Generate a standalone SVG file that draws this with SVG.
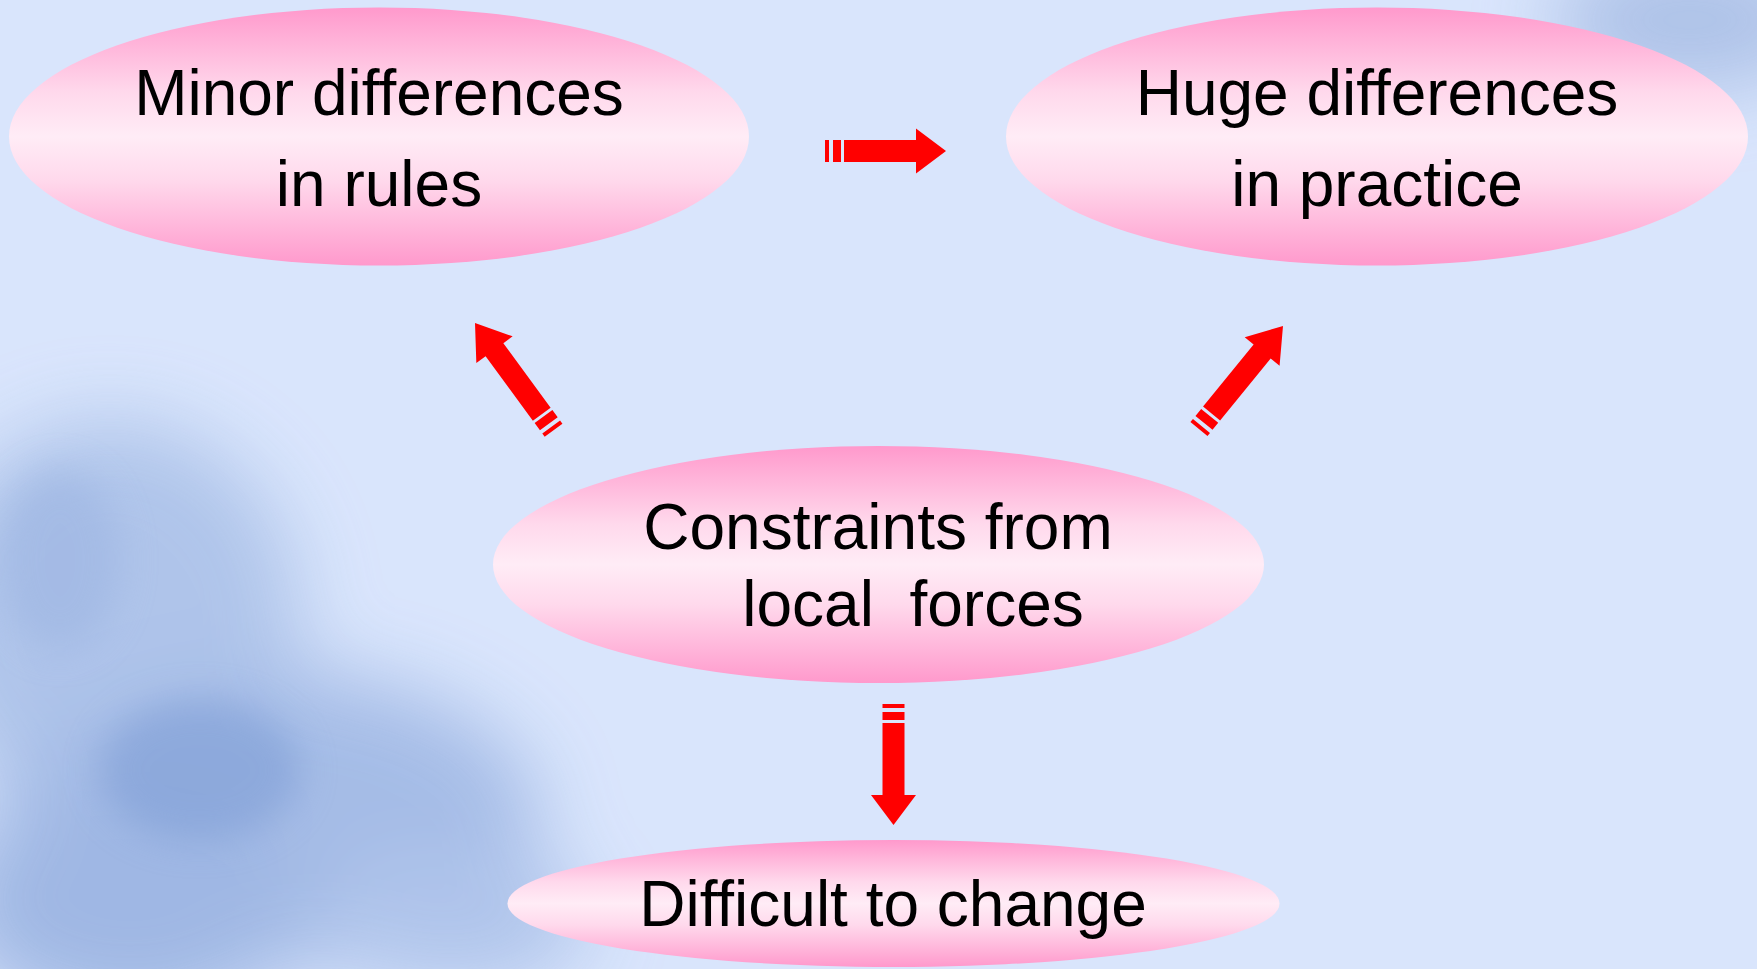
<svg xmlns="http://www.w3.org/2000/svg" width="1757" height="969" viewBox="0 0 1757 969">
<defs>
<linearGradient id="pink" x1="0" y1="0" x2="0" y2="1">
<stop offset="0" stop-color="#ff99cc"/>
<stop offset="0.33" stop-color="#ffd9ec"/>
<stop offset="0.5" stop-color="#ffecf6"/>
<stop offset="0.67" stop-color="#ffd9ec"/>
<stop offset="1" stop-color="#ff99cc"/>
</linearGradient>
<filter id="blur" x="-50%" y="-50%" width="200%" height="200%"><feGaussianBlur stdDeviation="40"/></filter>
<filter id="blur2" x="-50%" y="-50%" width="200%" height="200%"><feGaussianBlur stdDeviation="18"/></filter>
<path id="arw" d="M0,0 L-30,-22.5 L-30,-11 L-102,-11 L-102,11 L-30,11 L-30,22.5 Z M-105,-11 L-113,-11 L-113,11 L-105,11 Z M-117,-11 L-121,-11 L-121,11 L-117,11 Z"/>
<path id="arwL" d="M0,0 L-33,-22.5 L-33,-11 L-113,-11 L-113,11 L-33,11 L-33,22.5 Z M-116,-11 L-125,-11 L-125,11 L-116,11 Z M-129,-11 L-133,-11 L-133,11 L-129,11 Z"/>
</defs>
<style>
.node ellipse{fill:url(#pink);}
.node text{font-family:"Liberation Sans",Arial,sans-serif;font-size:64px;fill:#000;text-anchor:middle;white-space:pre;}
.conn use{fill:#ff0000;}
</style>
<g id="background">
<rect width="1757" height="969" fill="#d9e5fc"/>
<g filter="url(#blur)" opacity="0.85">
<ellipse cx="110" cy="620" rx="190" ry="200" fill="#a8bfe7"/>
<ellipse cx="270" cy="820" rx="270" ry="150" fill="#9cb5e3"/>
<ellipse cx="130" cy="900" rx="180" ry="120" fill="#96b0e0"/>
<ellipse cx="450" cy="920" rx="140" ry="70" fill="#a9bfe8"/>
<ellipse cx="1690" cy="20" rx="140" ry="70" fill="#a6bce4"/>
</g>
<g filter="url(#blur2)" opacity="0.6">
<ellipse cx="200" cy="770" rx="100" ry="70" fill="#7f9ed6"/>
<ellipse cx="60" cy="560" rx="60" ry="90" fill="#9db5e2"/>
</g>
</g>
<g id="connectors" class="conn">
<use href="#arw" transform="translate(946,151)"/>
<use href="#arwL" transform="translate(475,323) rotate(-126.2)"/>
<use href="#arwL" transform="translate(1283,326) rotate(-50.8)"/>
<use href="#arw" transform="translate(893.5,825) rotate(90)"/>
</g>
<g id="node-minor" class="node">
<ellipse cx="379" cy="136.5" rx="370" ry="129"/>
<text x="379" y="115">Minor differences</text>
<text x="379" y="206">in rules</text>
</g>
<g id="node-huge" class="node">
<ellipse cx="1377" cy="136.5" rx="371" ry="129"/>
<text x="1377" y="115">Huge differences</text>
<text x="1377" y="206">in practice</text>
</g>
<g id="node-constraints" class="node">
<ellipse cx="878.5" cy="564.5" rx="385.5" ry="118.5"/>
<text x="878" y="549">Constraints from</text>
<text x="913" y="626">local  forces</text>
</g>
<g id="node-difficult" class="node">
<ellipse cx="893.5" cy="903.5" rx="386" ry="63.5"/>
<text x="893" y="926">Difficult to change</text>
</g>
</svg>
